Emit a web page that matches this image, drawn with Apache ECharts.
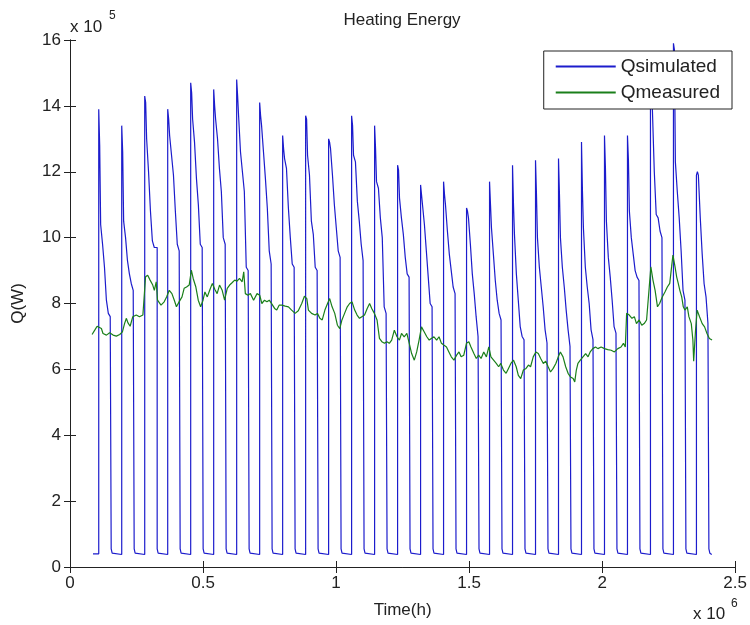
<!DOCTYPE html>
<html>
<head>
<meta charset="utf-8">
<title>Heating Energy</title>
<script src="https://cdn.jsdelivr.net/npm/echarts@6/dist/echarts.min.js"></script>
<style>
  html, body { margin: 0; padding: 0; background: #fff; }
  #chart { width: 750px; height: 625px; }
</style>
</head>
<body>
<div id="chart"></div>
<script>
// time axis is in units of 1e6 s, Q in units of 1e5 W (like the MATLAB exponent labels)
const xTicks = [0, 0.5, 1, 1.5, 2, 2.5]
const yTicks = [0, 2, 4, 6, 8, 10, 12, 14, 16]

// Qsimulated: heating on from 6h to 19h every day, values at these hours of the day
const dayHours = [6, 7, 8, 10, 12, 14, 16, 18]
const simDays = [
  [13.9, 12.8, 10.4, 9.8, 9.1, 8.1, 7.7, 7.6],
  [13.4, 12.6, 10.5, 10.0, 9.3, 8.9, 8.6, 8.4],
  [14.3, 14.1, 13.0, 12.0, 10.8, 9.9, 9.7, 9.7],
  [13.9, 13.6, 13.1, 12.5, 11.9, 10.8, 9.8, 9.6],
  [14.7, 14.4, 13.6, 12.9, 11.8, 11.0, 9.8, 9.7],
  [14.5, 14.0, 13.6, 13.0, 12.1, 11.4, 10.0, 9.8],
  [14.8, 14.3, 13.7, 12.6, 12.0, 11.4, 9.1, 9.0],
  [14.1, 13.7, 13.4, 12.6, 11.8, 10.9, 9.6, 9.2],
  [13.1, 12.7, 12.4, 12.1, 10.9, 10.0, 9.2, 9.1],
  [13.7, 13.6, 12.5, 11.9, 10.5, 10.1, 9.1, 9.0],
  [13.0, 12.9, 12.7, 11.9, 11.0, 10.3, 9.6, 9.4],
  [13.7, 13.4, 12.5, 12.3, 11.1, 10.5, 9.8, 9.3],
  [13.4, 12.7, 11.7, 11.5, 10.6, 10.0, 7.9, 7.7],
  [12.2, 12.05, 11.2, 10.6, 10.1, 9.4, 8.9, 8.8],
  [11.6, 11.3, 11.0, 10.4, 9.6, 8.8, 8.0, 7.9],
  [11.7, 11.3, 11.0, 10.2, 9.5, 9.0, 8.5, 8.3],
  [10.9, 10.8, 10.6, 9.8, 8.9, 8.3, 7.6, 7.0],
  [11.7, 11.0, 10.3, 9.5, 8.7, 8.1, 7.7, 7.5],
  [12.2, 11.0, 10.1, 8.9, 8.1, 7.3, 7.0, 6.9],
  [12.35, 11.3, 10.0, 9.1, 8.5, 7.9, 7.2, 6.8],
  [12.4, 11.3, 10.0, 9.1, 8.5, 7.8, 7.2, 6.7],
  [12.9, 11.4, 10.3, 9.1, 8.5, 8.0, 7.2, 6.9],
  [13.1, 12.1, 10.5, 9.4, 8.8, 8.1, 7.3, 7.1],
  [13.1, 12.35, 10.8, 10.0, 9.5, 9.0, 8.8, 8.7],
  [14.6, 14.4, 13.9, 12.0, 10.7, 10.6, 10.2, 10.0],
  [15.9, 15.7, 12.3, 11.4, 10.6, 9.6, 8.4, 8.1],
  [11.9, 12.0, 11.9, 10.6, 9.5, 8.6, 8.2, 7.4]
]
const nightHours = [19, 20, 21]
const nightLevel = [0.55, 0.42, 0.38]
const simStart = [24, 0.4]   // [hour, value]
const simEnd = [670, 0.38]

// Qmeasured
const measTime = [
  0.083, 0.093, 0.102, 0.109, 0.118, 0.124, 0.137, 0.149, 0.162, 0.174, 0.187, 0.197,
  0.205, 0.212, 0.218, 0.226, 0.236, 0.249, 0.261, 0.274, 0.284, 0.292, 0.301, 0.311,
  0.317, 0.324, 0.329, 0.342, 0.354, 0.363, 0.373, 0.383, 0.392, 0.400, 0.410, 0.421,
  0.429, 0.438, 0.448, 0.456, 0.463, 0.473, 0.482, 0.491, 0.500, 0.507, 0.516, 0.525,
  0.535, 0.545, 0.553, 0.562, 0.572, 0.581, 0.591, 0.600, 0.609, 0.619, 0.628, 0.637,
  0.647, 0.653, 0.659, 0.669, 0.678, 0.690, 0.703, 0.713, 0.721, 0.731, 0.740, 0.749,
  0.759, 0.769, 0.777, 0.786, 0.796, 0.809, 0.821, 0.833, 0.846, 0.858, 0.871, 0.881,
  0.890, 0.896, 0.908, 0.921, 0.930, 0.939, 0.948, 0.958, 0.968, 0.976, 0.985, 0.995,
  1.005, 1.014, 1.022, 1.032, 1.042, 1.051, 1.060, 1.070, 1.079, 1.088, 1.097, 1.107,
  1.117, 1.126, 1.134, 1.144, 1.154, 1.163, 1.172, 1.182, 1.191, 1.200, 1.209, 1.219,
  1.229, 1.238, 1.246, 1.256, 1.266, 1.275, 1.284, 1.294, 1.303, 1.312, 1.321, 1.331,
  1.341, 1.350, 1.358, 1.368, 1.378, 1.387, 1.396, 1.406, 1.415, 1.424, 1.433, 1.443,
  1.453, 1.462, 1.470, 1.480, 1.490, 1.499, 1.507, 1.518, 1.527, 1.536, 1.545, 1.555,
  1.565, 1.574, 1.582, 1.592, 1.602, 1.611, 1.619, 1.629, 1.639, 1.648, 1.657, 1.667,
  1.677, 1.685, 1.694, 1.704, 1.714, 1.723, 1.731, 1.741, 1.751, 1.760, 1.769, 1.779,
  1.788, 1.797, 1.806, 1.816, 1.826, 1.835, 1.843, 1.853, 1.863, 1.872, 1.881, 1.891,
  1.897, 1.903, 1.909, 1.918, 1.928, 1.938, 1.947, 1.955, 1.965, 1.975, 1.984, 1.996,
  2.009, 2.021, 2.034, 2.046, 2.059, 2.071, 2.080, 2.087, 2.092, 2.102, 2.112, 2.121,
  2.129, 2.139, 2.149, 2.158, 2.167, 2.177, 2.183, 2.191, 2.199, 2.208, 2.216, 2.226,
  2.236, 2.245, 2.254, 2.261, 2.266, 2.274, 2.280, 2.286, 2.292, 2.299, 2.305, 2.311,
  2.320, 2.326, 2.335, 2.341, 2.344, 2.351, 2.357, 2.366, 2.376, 2.385, 2.394, 2.403,
  2.413
]
const measValue = [
  7.06, 7.19, 7.31, 7.36, 7.24, 7.09, 7.04, 7.11, 7.04, 7.01, 7.06, 7.14,
  7.39, 7.55, 7.41, 7.31, 7.60, 7.65, 7.60, 7.65, 8.81, 8.86, 8.71, 8.56,
  8.40, 8.66, 8.10, 7.95, 8.05, 8.20, 8.40, 8.30, 8.10, 7.90, 8.05, 8.20,
  8.46, 8.50, 8.56, 9.01, 8.76, 8.50, 8.10, 7.90, 8.10, 8.35, 8.20, 8.40,
  8.61, 8.42, 8.30, 8.56, 8.40, 8.10, 8.46, 8.56, 8.63, 8.71, 8.68, 8.76,
  8.66, 8.96, 8.30, 8.25, 8.30, 8.10, 8.30, 8.25, 8.00, 8.10, 8.05, 8.10,
  7.98, 7.85, 7.80, 7.95, 7.95, 7.92, 7.90, 7.80, 7.70, 7.78, 8.00, 8.22,
  8.15, 7.80, 7.70, 7.65, 7.70, 7.55, 7.50, 7.80, 8.00, 8.15, 7.90, 7.70,
  7.34, 7.24, 7.50, 7.70, 7.90, 8.00, 8.05, 7.80, 7.65, 7.55, 7.60, 7.65,
  7.85, 8.00, 7.85, 7.70, 7.50, 6.94, 6.84, 6.79, 6.84, 6.79, 6.89, 7.19,
  6.99, 6.89, 7.09, 6.99, 7.09, 6.79, 6.48, 6.28, 6.53, 6.89, 7.29, 7.14,
  6.99, 6.89, 6.94, 6.99, 6.89, 6.99, 6.79, 6.73, 6.68, 6.53, 6.38, 6.28,
  6.43, 6.53, 6.38, 6.43, 6.79, 6.84, 6.68, 6.48, 6.33, 6.43, 6.33, 6.53,
  6.38, 6.68, 6.38, 6.28, 6.18, 6.08, 6.18, 5.98, 5.88, 6.03, 6.18, 6.28,
  6.08, 5.82, 5.72, 5.98, 6.03, 6.13, 6.08, 6.38, 6.53, 6.48, 6.33, 6.18,
  6.25, 6.08, 5.92, 6.03, 6.18, 6.38, 6.53, 6.38, 6.08, 5.88, 5.77, 5.72,
  5.62, 5.98, 6.18, 6.28, 6.38, 6.48, 6.38, 6.53, 6.63, 6.68, 6.63, 6.68,
  6.63, 6.60, 6.58, 6.53, 6.63, 6.68, 6.79, 6.68, 7.70, 7.65, 7.55, 7.60,
  7.39, 7.50, 7.34, 7.39, 7.50, 8.50, 9.11, 8.71, 8.40, 7.90, 8.00, 8.20,
  8.35, 8.50, 8.61, 9.11, 9.47, 9.11, 8.81, 8.61, 8.40, 8.20, 7.90, 7.80,
  7.90, 7.60, 7.39, 6.89, 6.25, 7.19, 7.80, 7.60, 7.39, 7.29, 7.09, 6.94,
  6.89
]

const FONT = '"Liberation Sans", Arial, Helvetica, sans-serif'
const HOUR = 0.0036 // one hour in 1e6 s

// build the simulated series from the day arrays
const simData = [[simStart[0] * HOUR, simStart[1]]]
simDays.forEach((vals, i) => {
  const day = i + 1
  dayHours.forEach((h, k) => {
    simData.push([(day * 24 + h) * HOUR, vals[k]])
  })
  nightHours.forEach((h, k) => {
    simData.push([(day * 24 + h) * HOUR, nightLevel[k]])
  })
})
simData.push([simEnd[0] * HOUR, simEnd[1]])

const measData = measTime.map((t, i) => [t, measValue[i]])

const chart = echarts.init(document.getElementById('chart'), null, { renderer: 'canvas' })

const baseAxis = {
  axisLine: { show: true, lineStyle: { color: '#222', width: 1 } },
  axisTick: { show: true, inside: true, length: 6, lineStyle: { color: '#222' } },
  splitLine: { show: false },
}

const option = {
  animation: false,
  backgroundColor: '#fff',
  grid: { left: 70, right: 10, top: 40, bottom: 58, containLabel: false },
  legend: {
    right: 18,
    top: 51,
    orient: 'vertical',
    backgroundColor: '#fff',
    borderColor: '#222',
    borderWidth: 1,
    borderRadius: 0,
    padding: [6, 12, 7, 11],
    itemWidth: 60,
    itemHeight: 18,
    itemGap: 7,
    itemStyle: { opacity: 0 },
    textStyle: { fontFamily: FONT, fontSize: 19, color: '#222' },
    data: ['Qsimulated', 'Qmeasured'],
  },
  xAxis: [
    Object.assign({}, baseAxis, {
      type: 'value',
      min: xTicks[0],
      max: xTicks[xTicks.length - 1],
      interval: 0.5,
      name: 'Time(h)',
      nameLocation: 'middle',
      nameGap: 35,
      nameTextStyle: { fontFamily: FONT, fontSize: 17, color: '#222' },
      axisLabel: { fontFamily: FONT, fontSize: 17, color: '#222', margin: 8 },
    }),
    Object.assign({}, baseAxis, {
      type: 'value',
      position: 'top',
      min: xTicks[0],
      max: xTicks[xTicks.length - 1],
      interval: 0.5,
      axisLabel: { show: false },
    }),
  ],
  yAxis: [
    Object.assign({}, baseAxis, {
      type: 'value',
      min: yTicks[0],
      max: yTicks[yTicks.length - 1],
      interval: 2,
      name: 'Q(W)',
      nameLocation: 'middle',
      nameGap: 43,
      nameTextStyle: { fontFamily: FONT, fontSize: 17, color: '#222' },
      axisLabel: { fontFamily: FONT, fontSize: 17, color: '#222', margin: 9 },
    }),
    Object.assign({}, baseAxis, {
      type: 'value',
      position: 'right',
      min: yTicks[0],
      max: yTicks[yTicks.length - 1],
      interval: 2,
      axisLabel: { show: false },
    }),
  ],
  series: [
    {
      name: 'Qsimulated',
      type: 'line',
      step: 'end',
      data: simData,
      symbol: 'none',
      clip: true,
      lineStyle: { color: '#1c1ccc', width: 1.2 },
      itemStyle: { color: '#1c1ccc' },
      z: 2,
    },
    {
      name: 'Qmeasured',
      type: 'line',
      data: measData,
      symbol: 'none',
      clip: true,
      lineStyle: { color: '#1a7f1a', width: 1.2 },
      itemStyle: { color: '#1a7f1a' },
      z: 3,
    },
  ],
  graphic: [
    {
      type: 'text', x: 402, y: 20, z: 10,
      style: { text: 'Heating Energy', fontFamily: FONT, fontSize: 17, fill: '#222', align: 'center', verticalAlign: 'middle' },
    },
    {
      type: 'text', x: 70, y: 27, z: 10,
      style: { text: 'x 10', fontFamily: FONT, fontSize: 17, fill: '#222', align: 'left', verticalAlign: 'middle' },
    },
    {
      type: 'text', x: 109, y: 16, z: 10,
      style: { text: '5', fontFamily: FONT, fontSize: 12, fill: '#222', align: 'left', verticalAlign: 'middle' },
    },
    {
      type: 'text', x: 693, y: 614, z: 10,
      style: { text: 'x 10', fontFamily: FONT, fontSize: 17, fill: '#222', align: 'left', verticalAlign: 'middle' },
    },
    {
      type: 'text', x: 731, y: 604, z: 10,
      style: { text: '6', fontFamily: FONT, fontSize: 12, fill: '#222', align: 'left', verticalAlign: 'middle' },
    },
  ],
}

chart.setOption(option)
</script>
</body>
</html>
